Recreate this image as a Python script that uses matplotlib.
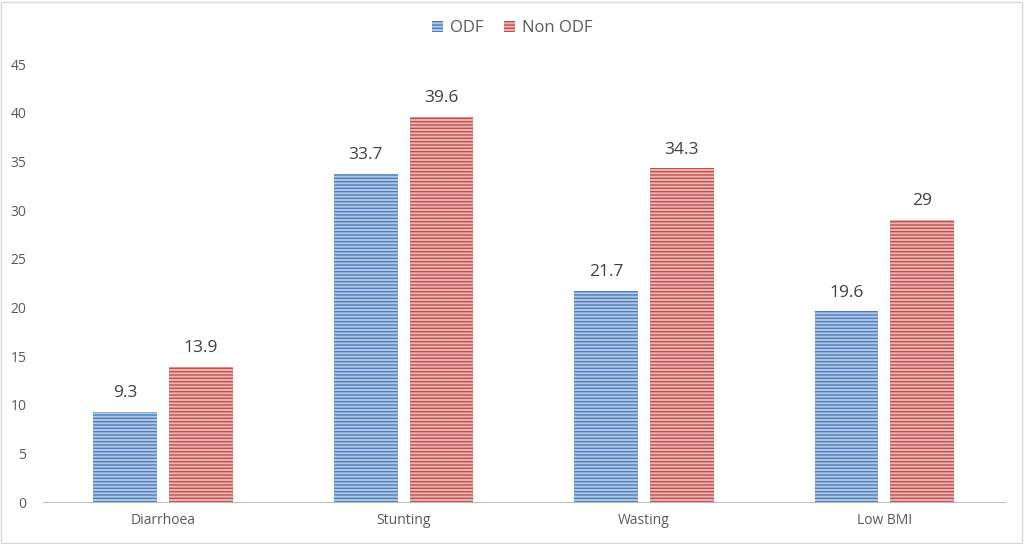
import numpy as np
import matplotlib
matplotlib.use('Agg')
import matplotlib.pyplot as plt
from matplotlib.patches import Rectangle

# Dati
categories = ['Diarrhoea', 'Stunting', 'Wasting', 'Low BMI']
odf = [9.3, 33.7, 21.7, 19.6]
non_odf = [13.9, 39.6, 34.3, 29]
odf_labels = ['9.3', '33.7', '21.7', '19.6']
non_odf_labels = ['13.9', '39.6', '34.3', '29']

plt.rcParams['font.family'] = ['Open Sans', 'DejaVu Sans']
plt.rcParams['hatch.linewidth'] = 1.0

fig = plt.figure(figsize=(10.24, 5.44), dpi=100)
ax = fig.add_axes([0.042, 0.077, 0.939, 0.805])

x = np.arange(len(categories))
w = 0.265
gap = 0.05

# barre con righe orizzontali
b1 = ax.bar(x - (w + gap) / 2, odf, w, color='#b4c8e6', edgecolor='#4a7ebb',
            hatch='-----', linewidth=0, label='ODF')
b2 = ax.bar(x + (w + gap) / 2, non_odf, w, color='#eab4b3', edgecolor='#c0504d',
            hatch='-----', linewidth=0, label='Non ODF')

for xi, v, t in zip(x - (w + gap) / 2, odf, odf_labels):
    ax.text(xi, v + 1.1, t, ha='center', va='bottom', fontsize=12.5, color='#404040')
for xi, v, t in zip(x + (w + gap) / 2, non_odf, non_odf_labels):
    ax.text(xi, v + 1.1, t, ha='center', va='bottom', fontsize=12.5, color='#404040')

ax.set_xlim(-0.5, 3.5)
ax.set_ylim(0, 45)
ax.set_yticks(np.arange(0, 46, 5))
ax.set_xticks(x)
ax.set_xticklabels(categories)
ax.tick_params(axis='both', length=0, labelsize=10, colors='#595959')
ax.tick_params(axis='x', pad=8)
ax.tick_params(axis='y', pad=12)
for s in ['top', 'right', 'left']:
    ax.spines[s].set_visible(False)
ax.spines['bottom'].set_color('#bfbfbf')

fig.legend(loc='upper center', bbox_to_anchor=(0.5, 0.99), ncol=2, frameon=False,
           fontsize=12, handlelength=0.7, handleheight=0.7, columnspacing=1.2,
           handletextpad=0.4, labelcolor='#595959')

# bordo esterno
fig.patches.append(Rectangle((0.001, 0.002), 0.997, 0.995, transform=fig.transFigure,
                             fill=False, edgecolor='#d9d9d9', linewidth=1))

plt.savefig('out.png', dpi=100)
